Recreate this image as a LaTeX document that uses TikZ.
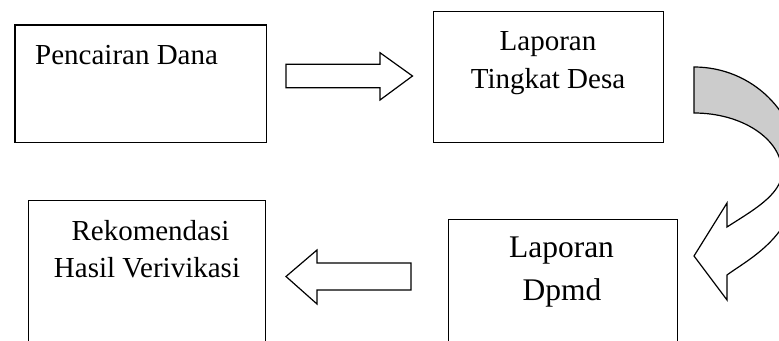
\documentclass[tikz,border=0pt]{standalone}
\usepackage{fontspec}
\setmainfont{Liberation Serif}
\begin{document}
\begin{tikzpicture}[x=1pt,y=-1pt,
  box/.style={draw=black,line width=1.4pt,fill=white,inner sep=0pt,anchor=north west},
  lbl/.style={anchor=base,inner sep=0pt,font=\fontsize{29}{38}\selectfont},
  lblbig/.style={anchor=base,inner sep=0pt,font=\fontsize{31.5}{42}\selectfont},
  blockarrow/.style={draw=black,line width=1.2pt,line join=miter,fill=white},
  bandgray/.style={draw=black,line width=1.2pt,line join=miter,fill=black!20},
  bandwhite/.style={draw=black,line width=1.2pt,line join=miter,fill=white}]
\useasboundingbox (0,0) rectangle (779,340);
\clip (0,0) rectangle (779,340);
% boxes
\node[box,minimum width=251.4pt,minimum height=117.4pt] (b1) at (14.3,24.3) {};
\node[box,minimum width=230pt,minimum height=131pt] (b2) at (433,10.7) {};
\node[box,minimum width=237.3pt,minimum height=170pt] (b3) at (27.7,200) {};
\node[box,minimum width=229pt,minimum height=150pt] (b4) at (448,219) {};
% texts
\node[lbl,anchor=base west] (t1) at (35,64) {Pencairan Dana};
\node[lbl] (t2a) at (548,50) {Laporan};
\node[lbl] (t2b) at (548,88) {Tingkat Desa};
\node[lbl] (t3a) at (150.5,240) {Rekomendasi};
\node[lbl] (t3b) at (147,277) {Hasil Verivikasi};
\node[lblbig] (t4a) at (561.5,257) {Laporan};
\node[lblbig] (t4b) at (562,300) {Dpmd};
% right block arrow
\draw[blockarrow] (286,64.3) -- (380,64.3) -- (380,52.7) -- (412.5,76) -- (380,100) -- (380,87.7) -- (286,87.7) -- cycle;
% left block arrow
\draw[blockarrow] (411,263) -- (317,263) -- (317,250) -- (286,276.5) -- (317,304) -- (317,290) -- (411,290) -- cycle;
% curved arrow: grey upper band
\draw[bandgray] (694,67) .. controls (752,67) and (799,113) .. (799,170) -- (782,172)
  .. controls (782,139.4) and (742.6,113) .. (694,113) -- cycle;
% curved arrow: white lower band with head
\draw[bandwhite] (782,172) .. controls (782,195) and (750,212) .. (727,227) -- (727,203)
  -- (694,256) -- (727,300) -- (727,275) .. controls (750,258) and (799,235) .. (799,170) -- cycle;
\end{tikzpicture}
\end{document}
